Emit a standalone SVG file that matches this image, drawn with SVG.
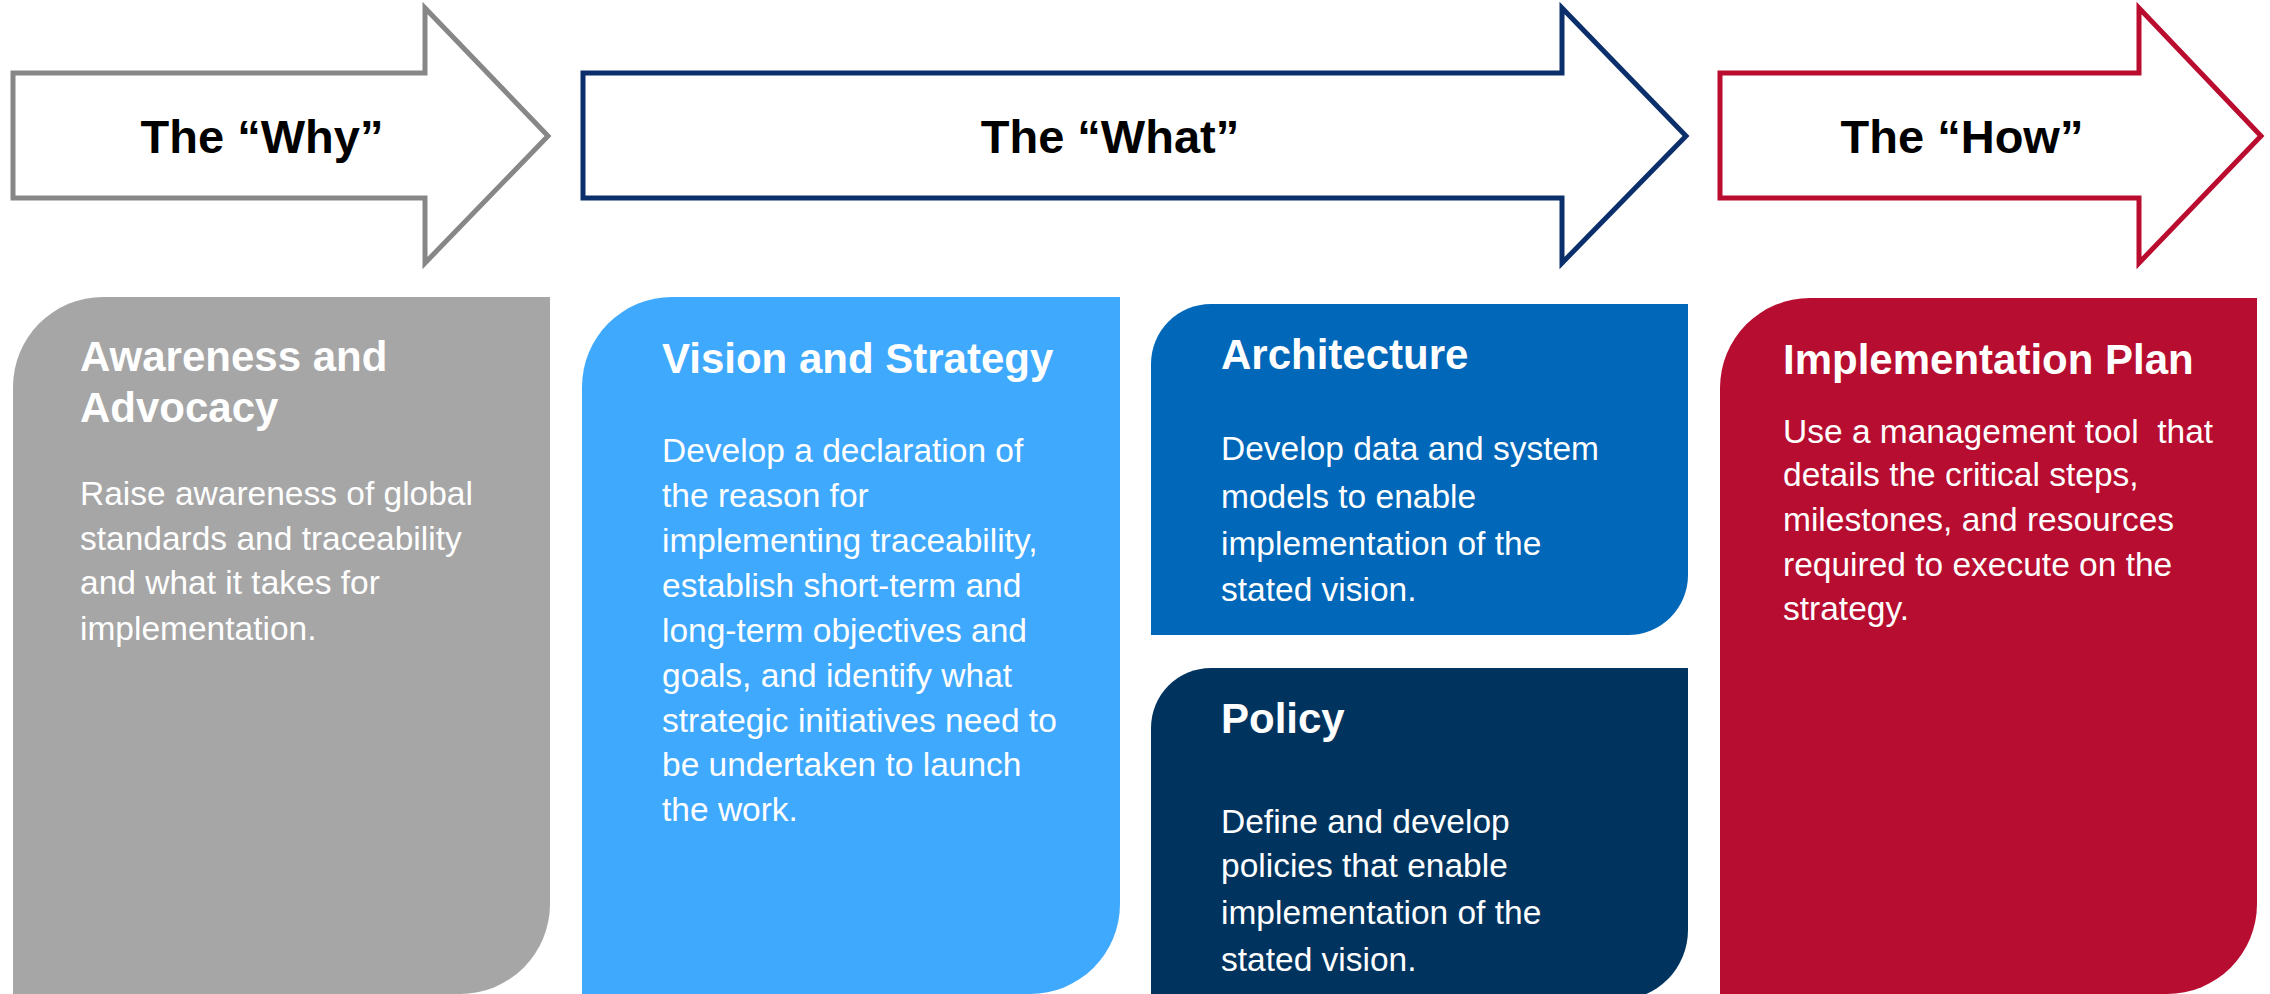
<svg xmlns="http://www.w3.org/2000/svg" width="2270" height="994" viewBox="0 0 2270 994">
<style>
.arrow{fill:#ffffff;stroke-width:5;stroke-linejoin:miter}
.lbl{font-family:"Liberation Sans",Arial,sans-serif;font-weight:bold;font-size:47px;fill:#000000;text-anchor:middle}
.ttl{font-family:"Liberation Sans",Arial,sans-serif;font-weight:bold;font-size:42px;fill:#ffffff}
.body{font-family:"Liberation Sans",Arial,sans-serif;font-size:33.5px;fill:#ffffff}
</style>
<rect width="2270" height="994" fill="#ffffff"/>
<g id="connectors">
<g id="arrow-why">
<path class="arrow" stroke="#878787" d="M13,73 H425 V8 L548,136 L425,263 V198 H13 Z"/>
<text class="lbl" x="262" y="153">The “Why”</text>
</g>
<g id="arrow-what">
<path class="arrow" stroke="#0B2F6B" d="M583,73 H1562 V8 L1686,136 L1562,263 V198 H583 Z"/>
<text class="lbl" x="1110" y="153">The “What”</text>
</g>
<g id="arrow-how">
<path class="arrow" stroke="#BA0C2F" d="M1720,73 H2139 V8 L2261,136 L2139,263 V198 H1720 Z"/>
<text class="lbl" x="1962" y="153">The “How”</text>
</g>
</g>
<g id="awareness">
<path fill="#A6A6A6" d="M13,994 V387 A90,90 0 0 1 103,297 H550 V904 A90,90 0 0 1 460,994 Z"/>
<text class="ttl" x="80" y="371">Awareness and</text>
<text class="ttl" x="80" y="422">Advocacy</text>
<text class="body" x="80" y="505">Raise awareness of global</text>
<text class="body" x="80" y="550">standards and traceability</text>
<text class="body" x="80" y="594">and what it takes for</text>
<text class="body" x="80" y="640">implementation.</text>
</g>
<g id="vision">
<path fill="#3FA9FE" d="M582,994 V387 A90,90 0 0 1 672,297 H1120 V904 A90,90 0 0 1 1030,994 Z"/>
<text class="ttl" x="662" y="373">Vision and Strategy</text>
<text class="body" x="662" y="462">Develop a declaration of</text>
<text class="body" x="662" y="507">the reason for</text>
<text class="body" x="662" y="552">implementing traceability,</text>
<text class="body" x="662" y="597">establish short-term and</text>
<text class="body" x="662" y="642">long-term objectives and</text>
<text class="body" x="662" y="687">goals, and identify what</text>
<text class="body" x="662" y="732">strategic initiatives need to</text>
<text class="body" x="662" y="776">be undertaken to launch</text>
<text class="body" x="662" y="821">the work.</text>
</g>
<g id="architecture">
<path fill="#0067B9" d="M1151,635 V364 A60,60 0 0 1 1211,304 H1688 V575 A60,60 0 0 1 1628,635 Z"/>
<text class="ttl" x="1221" y="369">Architecture</text>
<text class="body" x="1221" y="460">Develop data and system</text>
<text class="body" x="1221" y="508">models to enable</text>
<text class="body" x="1221" y="555">implementation of the</text>
<text class="body" x="1221" y="601">stated vision.</text>
</g>
<g id="policy">
<path fill="#00345F" d="M1151,1000 V728 A60,60 0 0 1 1211,668 H1688 V930 A70,70 0 0 1 1618,1000 Z"/>
<text class="ttl" x="1221" y="733">Policy</text>
<text class="body" x="1221" y="833">Define and develop</text>
<text class="body" x="1221" y="877">policies that enable</text>
<text class="body" x="1221" y="924">implementation of the</text>
<text class="body" x="1221" y="971">stated vision.</text>
</g>
<g id="implementation">
<path fill="#B70D30" d="M1720,994 V388 A90,90 0 0 1 1810,298 H2257 V904 A90,90 0 0 1 2167,994 Z"/>
<text class="ttl" x="1783" y="374">Implementation Plan</text>
<text class="body" x="1783" y="443" xml:space="preserve">Use a management tool  that</text>
<text class="body" x="1783" y="486">details the critical steps,</text>
<text class="body" x="1783" y="531">milestones, and resources</text>
<text class="body" x="1783" y="576">required to execute on the</text>
<text class="body" x="1783" y="620">strategy.</text>
</g>
</svg>
